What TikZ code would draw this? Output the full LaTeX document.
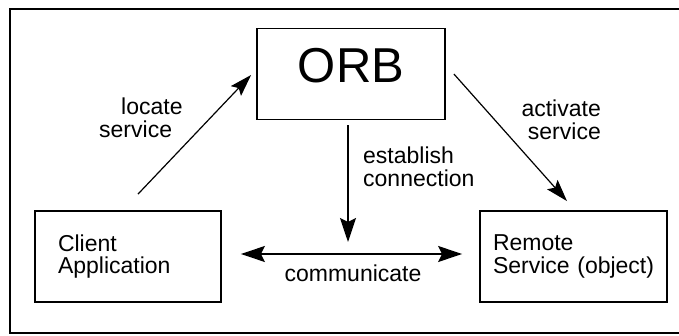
\documentclass[tikz,border=0pt]{standalone}
\usepackage{fontspec}
\setmainfont{Liberation Sans}
\usetikzlibrary{arrows.meta}
\begin{document}
\begin{tikzpicture}[x=1pt,y=-1pt,
  txt/.style={font=\fontsize{23}{22.5}\selectfont, inner sep=0pt},
  boxnode/.style={draw, line width=1.8pt, minimum height=91pt, align=left,
    font=\fontsize{23}{22.5}\selectfont, inner ysep=0pt},
  thinarr/.style={line width=1.2pt, -{Stealth[length=22pt,width=14pt,inset=4pt]}},
  thickarr/.style={line width=1.8pt, -{Stealth[length=24pt,width=16pt,inset=4pt]}},
  dblarr/.style={line width=1.8pt, {Stealth[length=24pt,width=16pt,inset=4pt]}-{Stealth[length=24pt,width=16pt,inset=4pt]}}]
\useasboundingbox (0,0) rectangle (679,336);
\draw[line width=2pt] (10,9) rectangle (700,333);
% boxes
\node[draw, line width=1.8pt, minimum width=188pt, minimum height=91pt,
  font=\fontsize{49}{49}\selectfont, text height=35pt, text depth=17pt, inner sep=0pt]
  (orb) at (351,74) {ORB};
\node[boxnode, minimum width=186pt, inner xsep=23pt, text width=140pt]
  (client) at (128,256.5) {Client\\Application};
\node[boxnode, minimum width=187pt, inner xsep=13pt, text width=161pt]
  (remote) at (573.5,256.5) {Remote\\\mbox{Service (object)}};
% connectors
\draw[thinarr] ([xshift=10pt,yshift=16pt]client.north) -- ([xshift=-5pt,yshift=-1pt]orb.west);
\draw[thinarr] ([xshift=8pt]orb.east) -- ([xshift=-6.5pt,yshift=9pt]remote.north);
\coordinate (meet) at (348,242);
\draw[thickarr] ([xshift=-3pt,yshift=-5pt]orb.south) -- (meet);
\draw[dblarr] ([xshift=19pt,yshift=2.5pt]client.east) -- ([xshift=-17pt,yshift=2.5pt]remote.west);
% labels
\node[txt, align=left, anchor=north west] (lloc) at (99,98) {\hspace*{22pt}locate\\service};
\node[txt, align=right, anchor=north east] (lact) at (601,100) {activate\\service};
\node[txt, align=left, anchor=north west] (lest) at (363,147) {establish\\connection};
\node[txt, anchor=base] (lcom) at (353,282) {communicate};
\end{tikzpicture}
\end{document}
